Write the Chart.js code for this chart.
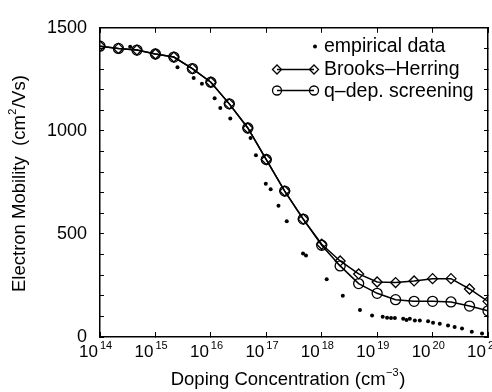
<!DOCTYPE html>
<html>
<head>
<meta charset="utf-8">
<script src="https://cdn.jsdelivr.net/npm/chart.js@4.4.0/dist/chart.umd.min.js"></script>
<style>
  body { margin: 0; background: #fff; }
  #wrap { width: 492px; height: 392px; overflow: hidden; }
</style>
</head>
<body>
<div id="wrap"><canvas id="myChart" width="520" height="392"></canvas></div>
<script>
// model grid, 1/3 decade steps (cm^-3)
var doping = [1e14, 2.15e14, 4.64e14, 1e15, 2.15e15, 4.64e15, 1e16, 2.15e16, 4.64e16,
  1e17, 2.15e17, 4.64e17, 1e18, 2.15e18, 4.64e18, 1e19, 2.15e19, 4.64e19,
  1e20, 2.15e20, 4.64e20, 1e21];
var brooksHerring = [1411, 1400, 1392, 1373, 1358, 1302, 1236, 1131, 1014,
  861, 708, 572, 450, 369, 306, 267, 264, 272, 283, 283, 233, 173];
var qScreening = [1411, 1400, 1392, 1373, 1358, 1302, 1236, 1131, 1014,
  861, 708, 572, 445, 345, 259, 212, 181, 173, 173, 170, 150, 127];

// empirical points
var empDoping = [3.5e14, 2.5e15, 4.9e15, 6.9e15, 1.17e16, 1.48e16, 2.24e16, 5.2e16, 6.5e16,
  9.8e16, 1.2e17, 1.66e17, 2.34e17, 4.6e17, 5.2e17, 1.23e18, 2.4e18, 4.9e18, 8.1e18,
  1.26e19, 1.51e19, 1.78e19, 2.09e19, 2.95e19, 3.39e19, 3.89e19, 4.79e19, 5.89e19,
  8.3e19, 1.02e20, 1.35e20, 1.9e20, 2.5e20, 3.4e20, 5.1e20, 7.8e20];
var empMobility = [1408, 1309, 1256, 1228, 1158, 1111, 1060, 966, 882,
  744, 717, 637, 562, 405, 395, 280, 200, 131, 104,
  98, 93, 92, 92, 88, 83, 88, 80, 80,
  76, 69, 64, 56, 48, 41, 25, 17];

var xTickExps = [14, 15, 16, 17, 18, 19, 20, 21];
var yTickLabels = [0, 500, 1000, 1500];

var FONT = "'Liberation Sans', Arial, Helvetica, sans-serif";

function pts(xs, ys) {
  return xs.map(function(x, i) { return {x: x, y: ys[i]}; });
}
function decadeTicks(scale) {
  scale.ticks = xTickExps.map(function(e) { return {value: Math.pow(10, e)}; });
}

// x tick labels with superscripts, axis titles and legend
var decorations = {
  id: 'decorations',
  afterDraw: function(chart) {
    var ctx = chart.ctx;
    var xs = chart.scales.x;
    ctx.save();
    ctx.fillStyle = '#000';
    ctx.textBaseline = 'alphabetic';
    xs.ticks.forEach(function(t, i) {
      var px = xs.getPixelForValue(t.value);
      ctx.font = '17px ' + FONT;
      ctx.textAlign = 'right';
      ctx.fillText('10', px - 2, 357);
      ctx.font = '11px ' + FONT;
      ctx.textAlign = 'left';
      ctx.fillText(String(xTickExps[i]), px, 349);
    });

    // x title
    var a = 'Doping Concentration (cm', sup = '\u22123', b = ')';
    ctx.font = '18.5px ' + FONT;
    var wa = ctx.measureText(a).width, wb = ctx.measureText(b).width;
    ctx.font = '11px ' + FONT;
    var ws = ctx.measureText(sup).width;
    var x0 = 288 - (wa + ws + wb + 1) / 2;
    ctx.textAlign = 'left';
    ctx.font = '18.5px ' + FONT;
    ctx.fillText(a, x0, 385);
    ctx.fillText(b, x0 + wa + ws + 1, 385);
    ctx.font = '11px ' + FONT;
    ctx.fillText(sup, x0 + wa + 0.5, 376);

    // y title
    ctx.save();
    ctx.translate(25, 292);
    ctx.rotate(-Math.PI / 2);
    var ya = 'Electron Mobility  (cm', ys = '2', yb = '/Vs)';
    ctx.font = '18.5px ' + FONT;
    var wya = ctx.measureText(ya).width;
    ctx.fillText(ya, 0, 0);
    ctx.font = '11px ' + FONT;
    ctx.fillText(ys, wya + 0.5, -9);
    var wys = ctx.measureText(ys).width;
    ctx.font = '18.5px ' + FONT;
    ctx.fillText(yb, wya + wys + 1, 0);
    ctx.restore();

    // legend
    ctx.font = '19.5px ' + FONT;
    ctx.textAlign = 'left';
    ctx.fillText('empirical data', 324, 52);
    ctx.fillText('Brooks\u2013Herring', 324, 75);
    ctx.fillText('q\u2013dep. screening', 324, 97);

    ctx.beginPath();
    ctx.arc(315, 46.5, 2, 0, Math.PI * 2);
    ctx.fill();

    ctx.strokeStyle = '#000';
    ctx.lineWidth = 1.5;
    [69.5, 90.5].forEach(function(yy, k) {
      ctx.beginPath();
      ctx.moveTo(277, yy);
      ctx.lineTo(314, yy);
      ctx.stroke();
      [277, 314].forEach(function(xx) {
        ctx.lineWidth = 1.3;
        ctx.beginPath();
        if (k === 0) {
          ctx.moveTo(xx - 4.5, yy);
          ctx.lineTo(xx, yy - 4.5);
          ctx.lineTo(xx + 4.5, yy);
          ctx.lineTo(xx, yy + 4.5);
          ctx.closePath();
        } else {
          ctx.arc(xx, yy, 4.5, 0, Math.PI * 2);
        }
        ctx.stroke();
        ctx.lineWidth = 1.5;
      });
    });
    ctx.restore();
  }
};

var axisBorder = {display: true, color: '#000', width: 1.5};

var ctx = document.getElementById('myChart').getContext('2d');
var myChart = new Chart(ctx, {
  type: 'line',
  data: {
    datasets: [{
      label: 'q-dep. screening',
      data: pts(doping, qScreening),
      borderColor: '#000',
      borderWidth: 1.5,
      pointStyle: 'circle',
      pointRadius: 5,
      pointBorderWidth: 1.3,
      pointBorderColor: '#000',
      pointBackgroundColor: 'rgba(255,255,255,0)',
      fill: false
    }, {
      label: 'Brooks-Herring',
      data: pts(doping, brooksHerring),
      borderColor: '#000',
      borderWidth: 1.5,
      pointStyle: 'rectRot',
      pointRadius: 5,
      pointBorderWidth: 1.3,
      pointBorderColor: '#000',
      pointBackgroundColor: 'rgba(255,255,255,0)',
      fill: false
    }, {
      label: 'empirical data',
      data: pts(empDoping, empMobility),
      showLine: false,
      pointStyle: 'circle',
      pointRadius: 2,
      pointBorderWidth: 0,
      pointBackgroundColor: '#000'
    }]
  },
  options: {
    responsive: false,
    animation: false,
    layout: {padding: {left: 0, top: 17, right: 32, bottom: 0}},
    plugins: {legend: {display: false}, tooltip: {enabled: false}},
    scales: {
      x: {
        type: 'logarithmic',
        position: 'bottom',
        min: 1e14,
        max: 1e21,
        afterBuildTicks: decadeTicks,
        afterFit: function(s) { s.height = 55; },
        ticks: {display: false},
        grid: {drawOnChartArea: false, tickLength: -5, color: '#000', lineWidth: 1},
        border: axisBorder
      },
      x2: {
        type: 'logarithmic',
        position: 'top',
        min: 1e14,
        max: 1e21,
        afterBuildTicks: decadeTicks,
        afterFit: function(s) { s.height = 0; },
        ticks: {display: false},
        grid: {drawOnChartArea: false, tickLength: -5, color: '#000', lineWidth: 1},
        border: axisBorder
      },
      y: {
        min: 0,
        max: 1500,
        afterFit: function(s) { s.width = 100; },
        ticks: {
          stepSize: 100,
          autoSkip: false,
          padding: 17,
          color: '#000',
          font: {family: FONT, size: 18},
          callback: function(v) { return yTickLabels.indexOf(v) >= 0 ? String(v) : ''; }
        },
        grid: {drawOnChartArea: false, tickLength: -4, color: '#000', lineWidth: 1},
        border: axisBorder
      },
      y2: {
        position: 'right',
        min: 0,
        max: 1500,
        afterFit: function(s) { s.width = 0; },
        ticks: {display: false, stepSize: 100, autoSkip: false},
        grid: {drawOnChartArea: false, tickLength: -4, color: '#000', lineWidth: 1},
        border: axisBorder
      }
    }
  },
  plugins: [decorations]
});
</script>
</body>
</html>
